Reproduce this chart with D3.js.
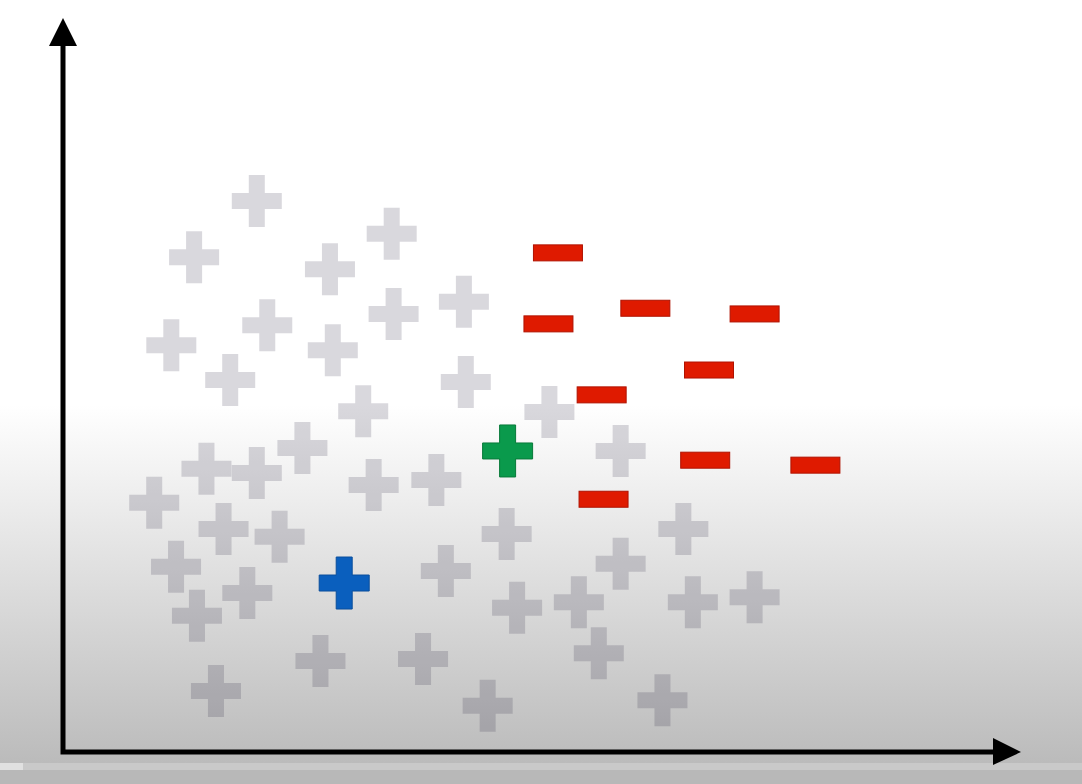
<!DOCTYPE html>
<html>
<head>
<meta charset="utf-8">
<script src="https://cdn.jsdelivr.net/npm/d3@7"></script>
<style>
  html, body { margin: 0; padding: 0; background: #fff; }
  svg { display: block; }
</style>
</head>
<body>
<div id="chart"></div>
<script>
// ---- data (x, y in axis units 0..100) ----
const grayX = [20.4, 13.8, 34.6, 28.1, 42.2, 34.8, 21.5, 11.4, 28.4, 17.6,
               42.4, 51.2, 31.6, 25.2, 15.1, 20.4, 58.7, 39.3, 32.7, 9.6,
               16.9, 22.8, 46.7, 65.3, 11.9, 40.3, 58.7, 19.4, 14.1, 47.8,
               54.3, 66.3, 72.8, 56.4, 27.1, 37.9, 16.1, 44.7, 63.1];
const grayY = [77.6, 69.7, 73.0, 68.0, 63.4, 61.7, 60.1, 57.3, 56.6, 52.4,
               52.1, 47.9, 48.0, 42.8, 39.9, 39.3, 42.4, 38.3, 37.6, 35.1,
               31.4, 30.3, 30.7, 31.4, 26.1, 25.5, 26.5, 22.4, 19.2, 20.3,
               21.1, 21.1, 21.8, 13.9, 12.8, 13.1, 8.6, 6.5, 7.3];
const minusX = [52.1, 61.3, 51.1, 72.8, 68.0, 56.7, 67.6, 79.2, 56.9];
const minusY = [70.3, 62.5, 60.3, 61.7, 53.8, 50.3, 41.1, 40.4, 35.6];
const bluePoint = [29.6, 23.8];
const greenPoint = [46.8, 42.4];

const W = 1082, H = 784;
const svg = d3.select("#chart").append("svg").attr("width", W).attr("height", H);

// background
const defs = svg.append("defs");
const grad = defs.append("linearGradient").attr("id", "bg")
  .attr("gradientUnits", "userSpaceOnUse")
  .attr("x1", 0).attr("y1", 0).attr("x2", 0).attr("y2", 763);
grad.append("stop").attr("offset", 0).attr("stop-color", "#ffffff");
grad.append("stop").attr("offset", 405 / 763).attr("stop-color", "#ffffff");
grad.append("stop").attr("offset", 1).attr("stop-color", "#bbbbbb");
svg.append("rect").attr("width", W).attr("height", H).attr("fill", "url(#bg)");
svg.append("rect").attr("x", 0).attr("y", 763).attr("width", W).attr("height", 7).attr("fill", "#c9c9c9");
svg.append("rect").attr("x", 0).attr("y", 763).attr("width", 23).attr("height", 7).attr("fill", "#e0e0e0");
svg.append("rect").attr("x", 0).attr("y", 770).attr("width", W).attr("height", 14).attr("fill", "#b8b8b8");

// scales
const x = d3.scaleLinear().domain([0, 100]).range([63, 1013]);
const y = d3.scaleLinear().domain([0, 100]).range([752, 42]);

// shapes
function plusPath(w, h, t) {
  const hw = w / 2, hh = h / 2, ht = t / 2;
  return `M${-ht},${-hh}H${ht}V${-ht}H${hw}V${ht}H${ht}V${hh}H${-ht}V${ht}H${-hw}V${-ht}H${-ht}Z`;
}
const PLUS = plusPath(50, 52, 16);

const grayData = grayX.map((d, i) => [d, grayY[i]]);
svg.append("g").selectAll("path").data(grayData).join("path")
  .attr("d", PLUS)
  .attr("transform", d => `translate(${x(d[0])},${y(d[1])})`)
  .attr("fill", "rgb(20,15,45)")
  .attr("fill-opacity", 0.16);

const minusData = minusX.map((d, i) => [d, minusY[i]]);
svg.append("g").selectAll("rect").data(minusData).join("rect")
  .attr("x", d => x(d[0]) - 24.5)
  .attr("y", d => y(d[1]) - 8)
  .attr("width", 49).attr("height", 16)
  .attr("fill", "#df1a00")
  .attr("stroke", "#b01200").attr("stroke-width", 1);

svg.append("path").attr("d", PLUS)
  .attr("transform", `translate(${x(bluePoint[0])},${y(bluePoint[1])})`)
  .attr("fill", "#0a5fbe").attr("stroke", "#0a4d9c").attr("stroke-width", 1);

svg.append("path").attr("d", PLUS)
  .attr("transform", `translate(${x(greenPoint[0])},${y(greenPoint[1])})`)
  .attr("fill", "#0a9a4c").attr("stroke", "#087a3a").attr("stroke-width", 1);

// axes
const ox = x(0), oy = y(0);
const axes = svg.append("g");
axes.append("path")
  .attr("d", `M${ox},46V${oy}H993`)
  .attr("fill", "none").attr("stroke", "#000").attr("stroke-width", 5)
  .attr("stroke-linejoin", "miter");
axes.append("path")
  .attr("d", `M${ox},18L${ox - 14},46L${ox + 14},46Z`)
  .attr("fill", "#000");
axes.append("path")
  .attr("d", `M1021,${oy}L993,${oy - 14}L993,${oy + 13}Z`)
  .attr("fill", "#000");
</script>
</body>
</html>
